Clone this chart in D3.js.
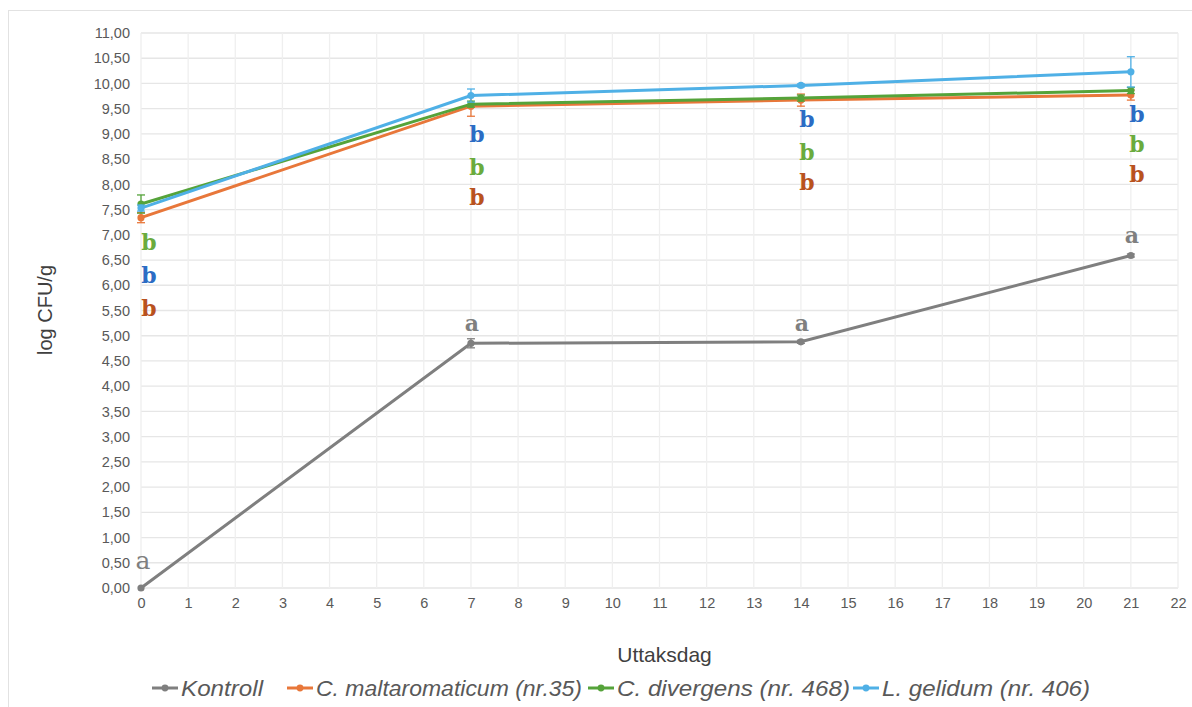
<!DOCTYPE html>
<html>
<head>
<meta charset="utf-8">
<script src="https://cdn.jsdelivr.net/npm/d3@7"></script>
<style>
  body{margin:0;background:#fff;}
  svg text{font-family:"Liberation Sans",Arial,sans-serif;}
</style>
</head>
<body>
<svg id="chart" width="1192" height="707"></svg>
<script>
/* data */
const days = [0, 7, 14, 21];
const kontroll   = [0.00, 4.85, 4.88, 6.59];
const kontrollErr = [0.00, 0.09, 0.03, 0.03];
const malta      = [7.34, 9.55, 9.67, 9.77];
const maltaErr   = [0.10, 0.20, 0.12, 0.10];
const diverg     = [7.61, 9.59, 9.71, 9.86];
const divergErr  = [0.18, 0.06, 0.06, 0.06];
const gelid      = [7.53, 9.76, 9.96, 10.23];
const gelidErr   = [0.06, 0.13, 0.03, 0.30];

const yTicks = d3.range(0, 11.01, 0.5);
const xTicks = d3.range(0, 23);

/* significance letters: day, y-value, letter, group */
const letterDay   = [0, 0, 0, 0, 7, 7, 7, 7, 14, 14, 14, 14, 21, 21, 21, 21];
const letterVal   = [0.55, 6.85, 6.20, 5.55, 5.25, 9.00, 8.35, 7.75, 5.25, 9.30, 8.65, 8.05, 7.00, 9.40, 8.80, 8.20];
const letterText  = ["a","b","b","b","a","b","b","b","a","b","b","b","a","b","b","b"];
const letterGroup = [0, 2, 3, 1, 0, 3, 2, 1, 0, 3, 2, 1, 0, 3, 2, 1];

const seriesNames = ["Kontroll", "C. maltaromaticum (nr.35)", "C. divergens (nr. 468)", "L. gelidum (nr. 406)"];
const seriesVals  = [kontroll, malta, diverg, gelid];
const seriesErr   = [kontrollErr, maltaErr, divergErr, gelidErr];
const colors      = ["#7f7f7f", "#e8773a", "#55a33a", "#4fb0e6"];
const letterColors = ["#7f7f7f", "#b9521e", "#6aab3d", "#2b6cc4"];

const svg = d3.select("#chart");
const m = {left:141, right:1178, top:33, bottom:588};

svg.append("rect").attr("x",8.5).attr("y",10.5).attr("width",1200).attr("height",720)
  .attr("fill","none").attr("stroke","#e2e2e2");

const x = d3.scaleLinear().domain([0,22]).range([m.left, m.right]);
const y = d3.scaleLinear().domain([0,11]).range([m.bottom, m.top]);

/* grid */
const grid = svg.append("g");
grid.selectAll(".gy").data(yTicks).join("line")
  .attr("x1",m.left).attr("x2",m.right)
  .attr("y1",d=>y(d)).attr("y2",d=>y(d))
  .attr("stroke","#e6e6e6").attr("stroke-width",1.3);
grid.selectAll(".gx").data(xTicks).join("line")
  .attr("x1",d=>x(d)).attr("x2",d=>x(d))
  .attr("y1",m.top).attr("y2",m.bottom)
  .attr("stroke","#efefef").attr("stroke-width",1.3);

/* axes */
const fmt = d => d.toFixed(2).replace(".", ",");
const yAxis = svg.append("g").attr("transform",`translate(${m.left},0)`)
  .call(d3.axisLeft(y).tickValues(yTicks).tickFormat(fmt).tickSize(0).tickPadding(11));
const xAxis = svg.append("g").attr("transform",`translate(0,${m.bottom})`)
  .call(d3.axisBottom(x).tickValues(xTicks).tickFormat(d3.format("d")).tickSize(0).tickPadding(10));
[yAxis, xAxis].forEach(a => {
  a.select(".domain").remove();
  a.selectAll("text").attr("fill","#595959").style("font-size","14.5px")
    .style("font-family","Liberation Sans, Arial, sans-serif");
});

svg.append("text").attr("x",(m.left+m.right)/2 + 5).attr("y",662)
  .attr("text-anchor","middle").attr("fill","#404040").style("font-size","21px")
  .text("Uttaksdag");
svg.append("text").attr("transform","translate(52,310) rotate(-90)")
  .attr("text-anchor","middle").attr("fill","#404040").style("font-size","20px")
  .text("log CFU/g");

/* series */
const line = d3.line().x((d,i)=>x(days[i])).y(d=>y(d));
seriesVals.forEach((vals, s) => {
  const g = svg.append("g");
  g.append("path").datum(vals).attr("d", line)
    .attr("fill","none").attr("stroke",colors[s]).attr("stroke-width",3);
  g.selectAll(".err").data(vals).join("g").each(function(d,i){
    const e = seriesErr[s][i];
    if (!e) return;
    const gg = d3.select(this), cx = x(days[i]);
    gg.append("line").attr("x1",cx).attr("x2",cx).attr("y1",y(d-e)).attr("y2",y(d+e))
      .attr("stroke",colors[s]).attr("stroke-width",1.3);
    [d-e, d+e].forEach(v => gg.append("line").attr("x1",cx-4).attr("x2",cx+4)
      .attr("y1",y(v)).attr("y2",y(v)).attr("stroke",colors[s]).attr("stroke-width",1.3));
  });
  g.selectAll("circle").data(vals).join("circle")
    .attr("cx",(d,i)=>x(days[i])).attr("cy",d=>y(d)).attr("r",3.6)
    .attr("fill",colors[s]);
});

/* letters */
svg.append("g").selectAll("text").data(letterText).join("text")
  .attr("x",(d,i)=>x(letterDay[i]) + (letterDay[i]===0 ? (letterGroup[i]===0 ? 2 : 8) : (letterGroup[i]===0 ? 1 : 6)))
  .attr("y",(d,i)=>y(letterVal[i]))
  .attr("text-anchor","middle").attr("dominant-baseline","central")
  .attr("fill",(d,i)=>letterColors[letterGroup[i]])
  .style("font-family","DejaVu Serif, Liberation Serif, serif")
  .style("font-weight",(d,i)=>letterGroup[i]===0 && letterDay[i]===0 ? "normal" : "bold")
  .style("font-size",(d,i)=>letterGroup[i]===0 && letterDay[i]===0 ? "25px" : "22px")
  .text(d=>d);

/* legend */
const legX = [152, 287, 588, 853];
const legW = [82, 266, 233, 208];
const leg = svg.append("g").attr("transform","translate(0,688)");
seriesNames.forEach((n, s) => {
  const g = leg.append("g").attr("transform",`translate(${legX[s]},0)`);
  g.append("line").attr("x1",0).attr("x2",26).attr("y1",0).attr("y2",0)
    .attr("stroke",colors[s]).attr("stroke-width",3);
  g.append("circle").attr("cx",13).attr("cy",0).attr("r",3.4).attr("fill",colors[s]);
  g.append("text").attr("x",29).attr("y",0).attr("dominant-baseline","central")
    .attr("fill","#595959").style("font-size","22px").style("font-style","italic")
    .style("font-family","Liberation Sans Narrow, Liberation Sans, Arial, sans-serif")
    .attr("textLength",legW[s]).attr("lengthAdjust","spacingAndGlyphs")
    .text(n);
});
</script>
</body>
</html>
